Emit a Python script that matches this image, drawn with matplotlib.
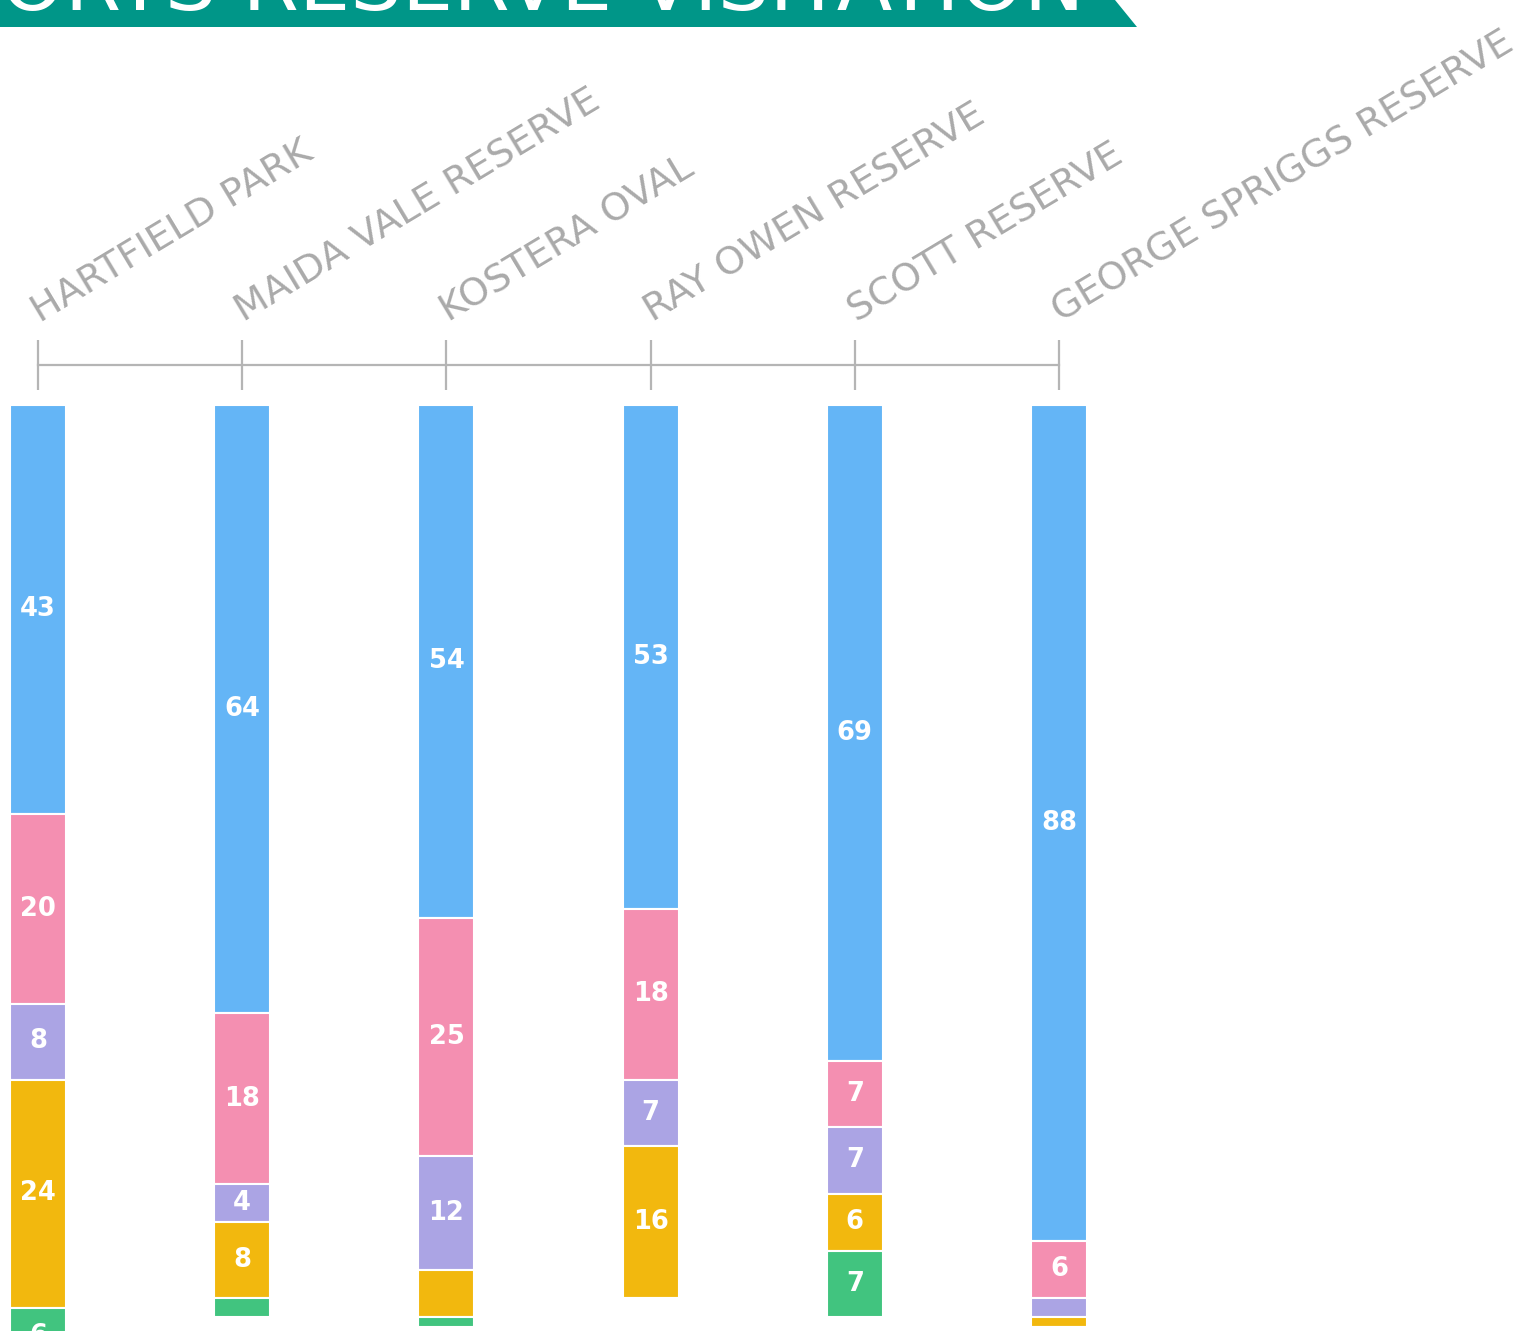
import matplotlib
matplotlib.use("Agg")
from matplotlib import pyplot as plt
from matplotlib.patches import Polygon
import numpy as np

# Data (stacks run downward from the axis)
reserves = ["HARTFIELD PARK", "MAIDA VALE RESERVE", "KOSTERA OVAL",
            "RAY OWEN RESERVE", "SCOTT RESERVE", "GEORGE SPRIGGS RESERVE"]
blue = [43, 64, 54, 53, 69, 88]
pink = [20, 18, 25, 18, 7, 6]
purple = [8, 4, 12, 7, 7, 2]
yellow = [24, 8, 5, 16, 6, 1]
green = [6, 2, 1, 0, 7, 0]
series = [blue, pink, purple, yellow, green]
colors = ["#64B5F6", "#F48FB1", "#ABA4E4", "#F2B80E", "#41C47F"]
hidden_labels = [(3, 2)]  # (series index, reserve index) drawn without a value label
min_label = 3

title = "SPORTS RESERVE VISITATION"

W, H = 1515, 1331
fig = plt.figure(figsize=(W / 100, H / 100), dpi=100)

# Title banner (cropped at top of the image)
banner = Polygon([(0, 1), (1115 / W, 1), (1137 / W, 1 - 27 / H), (0, 1 - 27 / H)],
                 closed=True, transform=fig.transFigure, facecolor="#009688",
                 edgecolor="none")
fig.patches.append(banner)
fig.text(1085 / W, 1 - 10 / H, title, color="white", fontsize=58.5,
         ha="right", va="baseline", family="DejaVu Sans")

# Main axes: top edge where the bars start
top_px = 405
ax = fig.add_axes([0, 0, 1, 1 - top_px / H])
px_per_unit = 9.5
ax.set_ylim((H - top_px) / px_per_unit, 0)
step_px = (1059 - 38) / 5
ax.set_xlim(-38 / step_px, (W - 38) / step_px)

x = np.arange(len(reserves))
bottom = np.zeros(len(reserves))
for si, (vals, c) in enumerate(zip(series, colors)):
    vals = np.array(vals, dtype=float)
    ax.bar(x, vals, bottom=bottom, width=56 / step_px, color=c,
           edgecolor="white", linewidth=1.5)
    for i, v in enumerate(vals):
        if v >= min_label and (si, i) not in hidden_labels:
            ax.text(i, bottom[i] + v / 2, f"{int(v)}", color="white",
                    fontsize=18.5, fontweight="bold", ha="center", va="center",
                    clip_on=False)
    bottom += vals

# Axis line with ticks above the bars
for s in ["left", "right", "bottom"]:
    ax.spines[s].set_visible(False)
ax.spines["top"].set_position(("outward", 40 * 0.72))
ax.spines["top"].set_bounds(0, len(reserves) - 1)
ax.spines["top"].set_color("#b5b5b5")
ax.spines["top"].set_linewidth(1.6)
ax.xaxis.tick_top()
ax.set_xticks(x)
ax.set_xticklabels([])
ax.tick_params(axis="x", direction="inout", length=36, width=1.6,
               color="#b5b5b5")
ax.set_yticks([])

for i, name in enumerate(reserves):
    ax.annotate(name, xy=(i, 1), xycoords=("data", "axes fraction"),
                xytext=(2 * 0.72, 82 * 0.72), textcoords="offset points",
                rotation=31, rotation_mode="anchor", ha="left", va="baseline",
                color="#aaaaaa", fontsize=27.5, annotation_clip=False)

fig.savefig("out.png", dpi=100)
